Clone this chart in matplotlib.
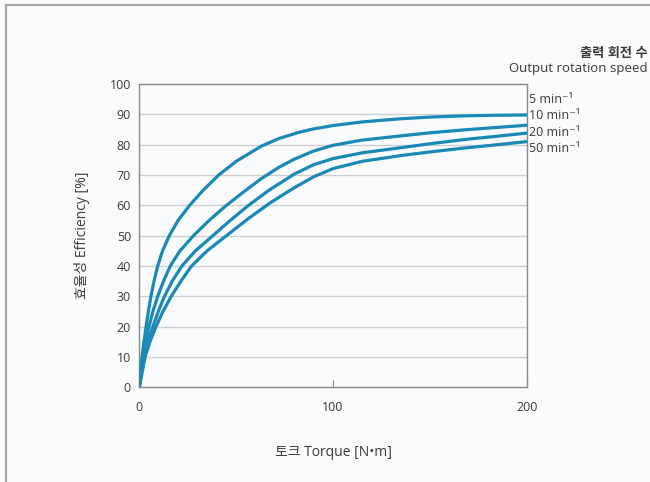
import matplotlib
matplotlib.use("Agg")
import matplotlib.pyplot as plt
from matplotlib.lines import Line2D

FONTS = ['Open Sans', 'Noto Sans CJK KR', 'DejaVu Sans']
plt.rcParams['font.family'] = FONTS

# torque [N*m] / efficiency [%]
torque_5 = [0, 0.7, 1.4, 2.4, 3.5, 4.7, 6, 7.6, 9.5, 12, 15.5, 20, 26, 33, 41, 50,
            63, 72, 82, 90, 100, 115, 134, 150, 168, 185, 200]
eff_5 = [0, 5, 10, 15, 20, 25, 30, 35, 40, 45, 50, 55, 60, 65, 70, 74.5,
         79.5, 82, 84, 85.2, 86.3, 87.5, 88.5, 89.1, 89.5, 89.7, 89.8]

torque_10 = [0, 0.9, 1.8, 3.3, 5, 7, 9.5, 12.5, 16, 21, 28, 36, 45, 54, 63, 72,
             80, 90, 100, 115, 135, 150, 168, 185, 200]
eff_10 = [0, 5, 10, 15, 20, 25, 30, 35, 40, 45, 50, 55, 60, 64.5, 68.8, 72.5,
          75.2, 77.9, 79.8, 81.5, 82.9, 83.9, 84.9, 85.7, 86.4]

torque_20 = [0, 1.2, 2.5, 4.5, 7, 9.8, 13, 17, 22, 29, 38, 46, 56, 67, 80, 90,
             100, 115, 135, 150, 168, 185, 200]
eff_20 = [0, 5, 10, 15, 20, 25, 30, 35, 40, 45, 50, 54.5, 59.8, 65, 70.3, 73.4,
          75.4, 77.3, 79, 80.3, 81.7, 82.8, 83.8]

torque_50 = [0, 1.5, 3, 5.5, 8.6, 12.2, 16.5, 21.5, 27, 35, 45, 56, 68, 80, 90,
             100, 115, 135, 150, 168, 185, 200]
eff_50 = [0, 5, 10, 15, 20, 25, 30, 35, 40, 45, 50, 55.5, 61, 65.8, 69.4,
          72.1, 74.5, 76.4, 77.6, 78.9, 80, 81]

speed_labels = ['5 min⁻¹', '10 min⁻¹', '20 min⁻¹', '50 min⁻¹']
x_ticks = [0, 100, 200]
y_ticks = list(range(0, 101, 10))

line_color = '#1b89b6'
text_color = '#3a3a3a'

fig = plt.figure(figsize=(6.5, 4.82), dpi=100)
fig.patch.set_facecolor('#fafbfd')

# outer frame (top and left edges only visible)
fig.add_artist(Line2D([6 / 650, 6 / 650], [0, 1 - 5 / 482], transform=fig.transFigure,
                      color='#a5a5a5', lw=1.6))
fig.add_artist(Line2D([6 / 650, 1], [1 - 5 / 482, 1 - 5 / 482], transform=fig.transFigure,
                      color='#a5a5a5', lw=1.6))

ax = fig.add_axes([0.2143, 0.1965, 0.5960, 0.6292])
ax.set_facecolor('#fafbfd')

for xs, ys in [(torque_5, eff_5), (torque_10, eff_10), (torque_20, eff_20), (torque_50, eff_50)]:
    ax.plot(xs, ys, color=line_color, lw=2.3, solid_capstyle='round',
            solid_joinstyle='round', zorder=3)

ax.set_xlim(0, 200)
ax.set_ylim(0, 100)
ax.set_xticks(x_ticks)
ax.set_yticks(y_ticks)
ax.yaxis.grid(True, color='#cfcfcf', lw=1.0)
ax.set_axisbelow(True)
ax.tick_params(axis='y', length=0, pad=6, labelsize=9, labelcolor=text_color)
ax.tick_params(axis='x', direction='in', length=5, color='#888888', pad=10,
               labelsize=9, labelcolor=text_color)
for s in ax.spines.values():
    s.set_color('#8a8a8a')
    s.set_linewidth(1.0)

ax.set_xlabel('토크 Torque [N•m]', fontsize=10, color=text_color, labelpad=22)
ax.set_ylabel('효율성 Efficiency [%]', fontsize=10, color=text_color, labelpad=14)

# curve labels at the right end
label_y = [95, 89.5, 84, 78.7]
for lab, yv in zip(speed_labels, label_y):
    ax.text(201, yv, lab, fontsize=9, color=text_color, va='center', ha='left',
            clip_on=False)

fig.text(0.997, 1 - 53 / 482, '출력 회전 수', fontsize=9.5, fontweight='bold',
         color=text_color, ha='right', va='center')
fig.text(0.997, 1 - 69 / 482, 'Output rotation speed', fontsize=9.5,
         color=text_color, ha='right', va='center')

fig.savefig('out.png', dpi=100, facecolor=fig.get_facecolor())
